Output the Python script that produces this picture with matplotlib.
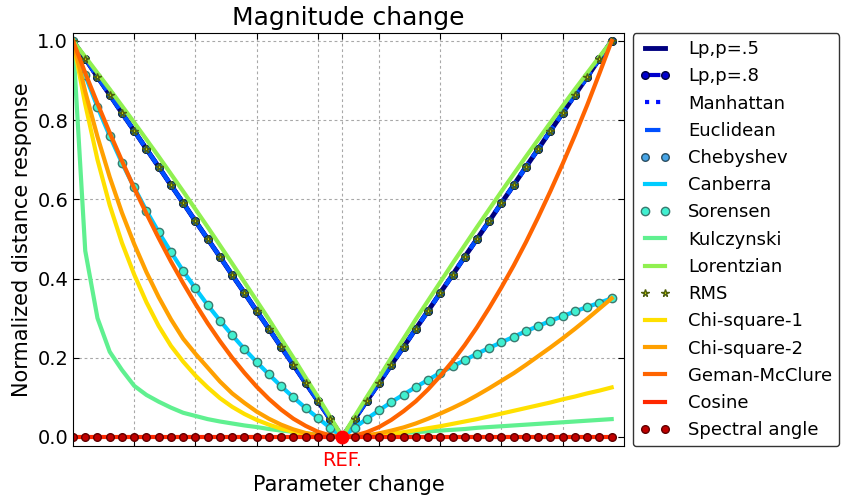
import numpy as np
import matplotlib
matplotlib.use('Agg')
import matplotlib.pyplot as plt

# sample index along the parameter sweep, reference sample in the middle
steps = np.arange(45)
ref_idx = 22

# normalized responses, read per sample (left end -> REF -> right end)
linear_resp = [1.000, 0.955, 0.909, 0.864, 0.818, 0.773, 0.727, 0.682, 0.636, 0.591, 0.545,
               0.500, 0.455, 0.409, 0.364, 0.318, 0.273, 0.227, 0.182, 0.136, 0.091, 0.045,
               0.000,
               0.045, 0.091, 0.136, 0.182, 0.227, 0.273, 0.318, 0.364, 0.409, 0.455, 0.500,
               0.545, 0.591, 0.636, 0.682, 0.727, 0.773, 0.818, 0.864, 0.909, 0.955, 1.000]
lorentzian = [1.000, 0.960, 0.919, 0.878, 0.836, 0.794, 0.751, 0.708, 0.664, 0.620, 0.575,
              0.530, 0.484, 0.438, 0.391, 0.344, 0.297, 0.248, 0.200, 0.150, 0.101, 0.051,
              0.000,
              0.051, 0.101, 0.150, 0.200, 0.248, 0.297, 0.344, 0.391, 0.438, 0.484, 0.530,
              0.575, 0.620, 0.664, 0.708, 0.751, 0.794, 0.836, 0.878, 0.919, 0.960, 1.000]
canberra = [1.000, 0.913, 0.833, 0.760, 0.692, 0.630, 0.571, 0.517, 0.467, 0.419, 0.375,
            0.333, 0.294, 0.257, 0.222, 0.189, 0.158, 0.128, 0.100, 0.073, 0.048, 0.023,
            0.000,
            0.023, 0.046, 0.067, 0.088, 0.107, 0.126, 0.144, 0.162, 0.178, 0.194, 0.210,
            0.225, 0.239, 0.253, 0.267, 0.280, 0.293, 0.305, 0.317, 0.328, 0.339, 0.350]
kulczynski = [1.000, 0.470, 0.300, 0.215, 0.169, 0.129, 0.106, 0.089, 0.074, 0.061, 0.053,
              0.045, 0.039, 0.034, 0.029, 0.025, 0.020, 0.016, 0.013, 0.009, 0.006, 0.003,
              0.000,
              0.002, 0.004, 0.006, 0.008, 0.010, 0.012, 0.014, 0.016, 0.018, 0.020, 0.023,
              0.025, 0.027, 0.029, 0.031, 0.033, 0.035, 0.037, 0.039, 0.041, 0.043, 0.045]
chi_square_1 = [1.000, 0.840, 0.700, 0.585, 0.490, 0.410, 0.340, 0.280, 0.230, 0.190, 0.155,
                0.125, 0.098, 0.076, 0.058, 0.043, 0.031, 0.021, 0.013, 0.007, 0.003, 0.001,
                0.000,
                0.001, 0.002, 0.005, 0.008, 0.012, 0.017, 0.022, 0.027, 0.033, 0.039, 0.045,
                0.052, 0.059, 0.066, 0.073, 0.080, 0.087, 0.095, 0.102, 0.110, 0.117, 0.125]
chi_square_2 = [1.000, 0.872, 0.758, 0.656, 0.566, 0.487, 0.416, 0.353, 0.297, 0.248, 0.210,
                0.175, 0.140, 0.110, 0.086, 0.064, 0.046, 0.031, 0.019, 0.010, 0.004, 0.001,
                0.000,
                0.001, 0.004, 0.009, 0.016, 0.024, 0.034, 0.046, 0.059, 0.073, 0.088, 0.105,
                0.123, 0.142, 0.161, 0.182, 0.204, 0.226, 0.249, 0.273, 0.298, 0.324, 0.350]
geman_mcclure = [1.000, 0.919, 0.842, 0.768, 0.697, 0.628, 0.564, 0.502, 0.443, 0.388, 0.336,
                 0.287, 0.242, 0.200, 0.162, 0.127, 0.096, 0.069, 0.046, 0.028, 0.013, 0.004,
                 0.000,
                 0.003, 0.012, 0.025, 0.043, 0.065, 0.090, 0.120, 0.154, 0.191, 0.232, 0.277,
                 0.326, 0.378, 0.433, 0.492, 0.555, 0.621, 0.690, 0.762, 0.838, 0.918, 1.000]
flat_resp = [0.0] * 45

xtick_pos = [5, 10, 15, 20, 22, 25, 30, 35, 40]
xtick_lbl = ['', '', '', '', 'REF.', '', '', '', '']

plt.rcParams['font.family'] = 'DejaVu Sans'
plt.rcParams['xtick.direction'] = 'in'
plt.rcParams['ytick.direction'] = 'in'
plt.rcParams['xtick.top'] = True
plt.rcParams['ytick.right'] = True
plt.rcParams['xtick.major.size'] = 4
plt.rcParams['ytick.major.size'] = 4

fig = plt.figure(figsize=(8.42, 5.04), dpi=100)
ax = fig.add_axes([0.0867, 0.115, 0.6543, 0.8195])

lw = 3
ax.plot(steps, linear_resp, color='#000080', lw=3.5, label='Lp,p=.5')
ax.plot(steps, linear_resp, color='#0000cd', lw=3, ls='--', marker='o', ms=5.5,
        mec='#000040', label='Lp,p=.8')
ax.plot(steps, linear_resp, color='#0010ff', lw=3, ls=':', label='Manhattan')
ax.plot(steps, linear_resp, color='#0050ff', lw=3, ls='--', label='Euclidean')
ax.plot(steps, linear_resp, color='#1a8fe0', ls='none', marker='o', ms=5.5, alpha=0.8,
        mec='#103040', label='Chebyshev')
ax.plot(steps, canberra, color='#00ccff', lw=lw, label='Canberra')
ax.plot(steps, canberra, color='#40f0d0', ls='none', marker='o', ms=6,
        mec='#3a7a70', label='Sorensen')
ax.plot(steps, kulczynski, color='#60f090', lw=lw, label='Kulczynski')
ax.plot(steps, lorentzian, color='#90f050', lw=lw, label='Lorentzian')
ax.plot(steps, linear_resp, color='#d8e400', ls='none', marker='*', ms=5.5,
        mec='#506010', label='RMS')
ax.plot(steps, chi_square_1, color='#ffe000', lw=lw, label='Chi-square-1')
ax.plot(steps, chi_square_2, color='#ffa000', lw=lw, label='Chi-square-2')
ax.plot(steps, geman_mcclure, color='#ff6400', lw=lw, label='Geman-McClure')
ax.plot(steps, flat_resp, color='#ff2800', lw=lw, label='Cosine')
ax.plot(steps, flat_resp, color='#c00000', ls='none', marker='o', ms=5.5,
        mec='#600000', label='Spectral angle')
ax.plot(steps[ref_idx], flat_resp[ref_idx], 'o', color='#ff0000', ms=9, mec='#ff0000')

ax.set_xlim(0, 45)
ax.set_ylim(-0.023, 1.02)
ax.set_xticks(xtick_pos)
ax.set_xticklabels(xtick_lbl, fontsize=14)
for t in ax.get_xticklabels():
    if t.get_text():
        t.set_color('red')
ax.set_yticks([0.0, 0.2, 0.4, 0.6, 0.8, 1.0])
ax.set_yticklabels(['0.0', '0.2', '0.4', '0.6', '0.8', '1.0'], fontsize=14)
ax.grid(True, color='#a8a8a8', ls=(0, (2.5, 2.5)), lw=0.8)
ax.set_xlabel('Parameter change', fontsize=15)
ax.set_ylabel('Normalized distance response', fontsize=15)
ax.set_title('Magnitude change', fontsize=18)

leg = ax.legend(loc='upper left', bbox_to_anchor=(1.016, 1.0), borderaxespad=0,
                numpoints=2, fontsize=13, handlelength=1.66, handletextpad=1.0,
                labelspacing=0.51, frameon=True, fancybox=True, edgecolor='black')
leg.get_frame().set_linewidth(1.0)

fig.savefig('out.png', dpi=100)
